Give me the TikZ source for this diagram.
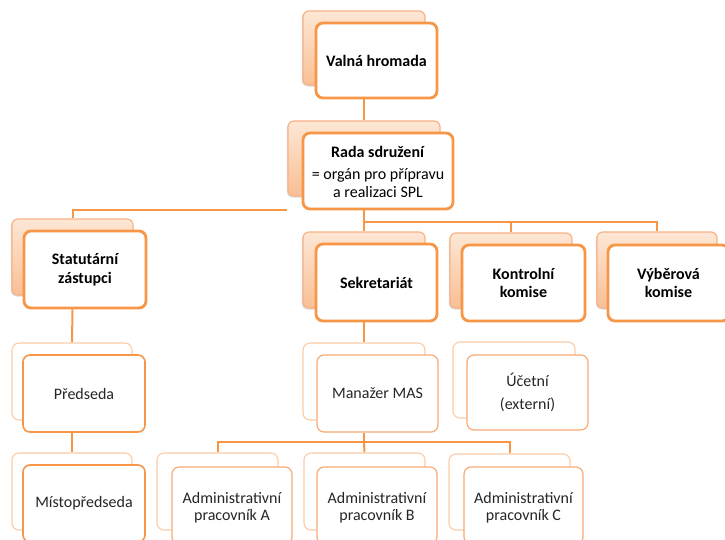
\documentclass[tikz,border=0pt]{standalone}
\usepackage{fontspec}
\setmainfont{Carlito}
\usetikzlibrary{fit,backgrounds,shadows}
\definecolor{orgline}{HTML}{F79646}
\definecolor{bkline}{HTML}{F9B284}
\definecolor{bktop}{HTML}{FDE7D5}
\definecolor{bkbot}{HTML}{F9BF94}
\definecolor{lowline}{HTML}{FBCBA6}
\definecolor{midline}{HTML}{F8AA74}
\definecolor{textgray}{HTML}{262626}
\tikzset{
  topback/.style={rounded corners=6pt, draw=bkline, line width=1.2pt, top color=bktop, bottom color=bkbot,
    inner sep=0pt, drop shadow={shadow xshift=-1.2pt, shadow yshift=-1.5pt, opacity=0.25, fill=black!60}},
  topfront/.style={rounded corners=7pt, draw=orgline, line width=2.8pt, fill=white, inner sep=0pt,
    font=\fontsize{16}{18.5}\selectfont\bfseries, text=black, align=center},
  lowback/.style={rounded corners=7pt, draw=lowline, line width=1.1pt, fill=white, inner sep=0pt},
  lowfront/.style={rounded corners=7pt, draw=midline, line width=1.2pt, fill=white, inner sep=0pt,
    font=\fontsize{16}{17.5}\selectfont, text=textgray, align=center},
  lowfrontstrong/.style={lowfront, draw=orgline, line width=1.6pt},
  conn/.style={draw=orgline, line width=2pt}
}
\begin{document}
\begin{tikzpicture}[x=1pt,y=-1pt]
\useasboundingbox (0,0) rectangle (725,539);
\clip (0,0) rectangle (725,539);
% top level
\node[topback, fit={(303,11) (425,85)}] (vhb) {};
\node[topfront, fit={(316,23) (437,98)}] (vh) {};
\node[font=\fontsize{16}{18.5}\selectfont\bfseries] at (vh.center) {Valná hromada};

\node[topback, fit={(288,121) (440,196)}] (radab) {};
\node[topfront, fit={(303,133) (453,209)}] (rada) {};
\node[align=center, text=black, font=\fontsize{16}{18}\selectfont] at ([yshift=-1pt]rada.center)
  {\textbf{Rada sdružení}\\[4pt]= orgán pro přípravu\\a realizaci SPL};

\node[topback, fit={(12,219) (133,295)}] (stab) {};
\node[topfront, fit={(24,231) (146,308)}] (sta) {};
\node[topfront, draw=none, fill=none] at (sta.center) {Statutární\\zástupci};

\node[topback, fit={(303,232) (425,308)}] (sekb) {};
\node[topfront, fit={(316,244) (437,321)}] (sek) {};
\node[topfront, draw=none, fill=none] at (sek.center) {Sekretariát};

\node[topback, fit={(450,233) (572,308)}] (kontb) {};
\node[topfront, fit={(462,245) (585,321)}] (kont) {};
\node[topfront, draw=none, fill=none] at (kont.center) {Kontrolní\\komise};

\node[topback, fit={(597,232) (717,308)}] (vybb) {};
\node[topfront, fit={(608,245) (729,321)}] (vyb) {};
\node[topfront, draw=none, fill=none] at (vyb.center) {Výběrová\\komise};

% lower level
\node[lowback, fit={(12,343) (132,420)}] (predb) {};
\node[lowfrontstrong, fit={(23,355) (145,432)}] (pred) {};
\node[lowfront, draw=none, fill=none] at (pred.center) {Předseda};

\node[lowback, fit={(12,453) (132,530)}] (mistb) {};
\node[lowfrontstrong, fit={(23,465) (145,542)}] (mist) {};
\node[lowfront, draw=none, fill=none] at (mist.center) {Místopředseda};

\node[lowback, fit={(303,343) (425,420)}] (manb) {};
\node[lowfront, fit={(317,355) (438,432)}] (man) {};
\node[lowfront, draw=none, fill=none] at (man.center) {Manažer MAS};

\node[lowback, fit={(453,342) (575,418)}] (ucb) {};
\node[lowfront, fit={(467,355) (588,430)}] (uc) {};
\node[lowfront, draw=none, fill=none] at (uc.center) {Účetní\\[5pt](externí)};

\node[lowback, fit={(157,453) (278,530)}] (adab) {};
\node[lowfront, fit={(172,467) (292,544)}] (ada) {};
\node[lowfront, draw=none, fill=none] at ([yshift=-2pt]ada.center) {Administrativní\\pracovník A};

\node[lowback, fit={(304,453) (425,530)}] (adbb) {};
\node[lowfront, fit={(317,467) (437,544)}] (adb) {};
\node[lowfront, draw=none, fill=none] at ([yshift=-2pt]adb.center) {Administrativní\\pracovník B};

\node[lowback, fit={(449,454) (570,530)}] (adcb) {};
\node[lowfront, fit={(464,467) (583,544)}] (adc) {};
\node[lowfront, draw=none, fill=none] at ([yshift=-2pt]adc.center) {Administrativní\\pracovník C};

\coordinate (j2) at (364,222);
\coordinate (j3) at (364,442);
\begin{scope}[on background layer]
\draw[conn] (vhb.south |- vh.south) -- (radab.north);
\draw[conn] (stab.north) |- (rada.south -| radab.west);
\draw[conn] (rada.south -| sekb.north) -- (sekb.north);
\draw[conn] (j2) -| (kontb.north);
\draw[conn] (j2) -| (vybb.north);
\draw[conn] (sta.south -| stab.south) -- (predb.north);
\draw[conn] (pred.south -| predb.south) -- (mistb.north);
\draw[conn] (sek.south -| sekb.south) -- (manb.north);
\draw[conn] (man.south -| manb.south) -- (j3);
\draw[conn] (j3) -| (adab.north);
\draw[conn] (j3) -- (adbb.north);
\draw[conn] (j3) -| (adcb.north);
\end{scope}
\end{tikzpicture}
\end{document}
